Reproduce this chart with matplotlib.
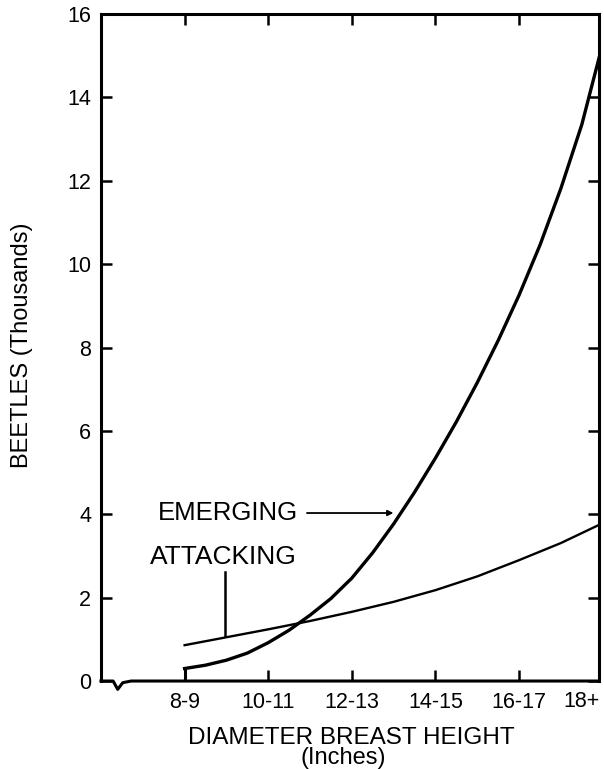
import matplotlib
matplotlib.use("Agg")
import matplotlib.pyplot as plt
import matplotlib.transforms as mtransforms

plt.rcParams['font.family'] = ['Liberation Sans', 'DejaVu Sans']

# diameter classes, 8-9 at position 0
dbh_labels = ["8-9", "10-11", "12-13", "14-15", "16-17"]
dbh_pos = [0, 1, 2, 3, 4]

# curves (position, thousands of beetles)
emerging_x = [0, 0.25, 0.5, 0.75, 1.0, 1.25, 1.5, 1.75, 2.0, 2.25, 2.5, 2.75,
              3.0, 3.25, 3.5, 3.75, 4.0, 4.25, 4.5, 4.75, 4.96]
emerging_y = [0.30, 0.38, 0.50, 0.67, 0.92, 1.22, 1.58, 1.98, 2.47, 3.08, 3.77, 4.53,
              5.35, 6.22, 7.16, 8.17, 9.26, 10.46, 11.82, 13.35, 14.98]

attacking_x = [0, 0.5, 1.0, 1.5, 2.0, 2.5, 3.0, 3.5, 4.0, 4.5, 4.95]
attacking_y = [0.86, 1.05, 1.24, 1.44, 1.66, 1.90, 2.18, 2.51, 2.90, 3.31, 3.74]

fig = plt.figure(figsize=(6.04, 7.69), dpi=100)
ax = fig.add_axes([0.1672, 0.1144, 0.8245, 0.8674])

ax.plot(emerging_x, emerging_y, color='black', lw=2.4, solid_joinstyle='round')
ax.vlines(emerging_x[0], 0, emerging_y[0], color='black', lw=2.2)
ax.plot(attacking_x, attacking_y, color='black', lw=1.7, solid_joinstyle='round')

ax.set_xlim(-1, 4.955)
ax.set_ylim(0, 16)

# bottom axis line with the little break near the origin
ax.spines['bottom'].set_visible(False)
ax.plot([-1, -0.855, -0.80, -0.74, -0.64, 4.955], [0, 0, -0.2, -0.04, 0, 0],
        color='black', lw=2.2, clip_on=False, solid_joinstyle='round')
for s in ['left', 'right', 'top']:
    ax.spines[s].set_linewidth(2.2)

ax.set_xticks(dbh_pos)
ax.set_xticklabels(dbh_labels)
ax.set_yticks(range(0, 17, 2))
ax.tick_params(direction='in', length=8, width=1.8, top=True, right=True,
               labelsize=15.5, pad=7)
ax.tick_params(axis='x', pad=8)
trans = mtransforms.blended_transform_factory(ax.transData, ax.transAxes)
ax.text(4.74, -0.0155, "18+", transform=trans, ha='center', va='top', fontsize=15.5)

# labels
ax.text(-0.32, 4.03, "EMERGING", fontsize=18.5, ha='left', va='center')
ax.annotate("", xy=(2.53, 4.03), xytext=(1.43, 4.03),
            arrowprops=dict(arrowstyle='-|>', color='black', lw=1.3, mutation_scale=8))
ax.text(-0.42, 2.97, "ATTACKING", fontsize=19, ha='left', va='center')
ax.plot([0.48, 0.48], [2.61, 1.08], color='black', lw=1.8)

fig.text(351 / 604, 1 - 738 / 769, "DIAMETER BREAST HEIGHT", fontsize=17.5,
         ha='center', va='center')
fig.text(343 / 604, 1 - 758 / 769, "(Inches)", fontsize=17, ha='center', va='center')
fig.text(22 / 604, 1 - 345 / 769, "BEETLES (Thousands)", fontsize=17,
         rotation=90, ha='center', va='center')

fig.savefig("out.png", dpi=100)
